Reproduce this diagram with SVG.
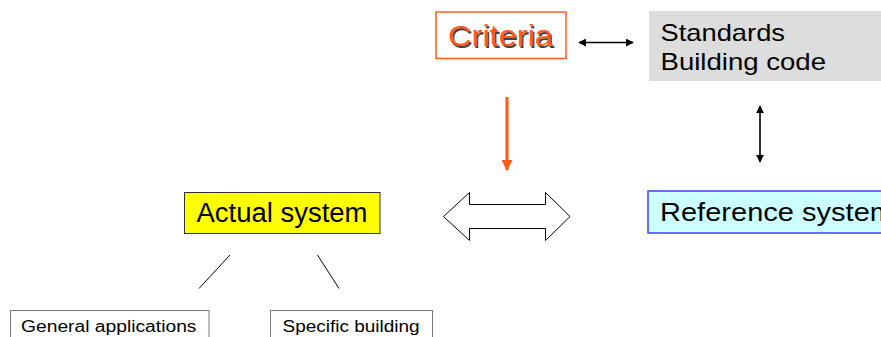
<svg xmlns="http://www.w3.org/2000/svg" width="881" height="337" viewBox="0 0 881 337">
<style>
text{font-family:"Liberation Sans",Arial,sans-serif;fill:#000}
.big{font-size:24px}
.small{font-size:16px}
.thin{stroke:#000;stroke-width:1;fill:none}
.blk{stroke:#000;stroke-width:1.6;fill:none}
</style>
<defs>
<marker id="ah" viewBox="0 0 10 10" refX="9" refY="5" markerWidth="8" markerHeight="8" markerUnits="userSpaceOnUse" orient="auto-start-reverse">
<path d="M0,0 L10,5 L0,10 z" fill="#000"/>
</marker>
<marker id="oh" viewBox="0 0 10 10" refX="9" refY="5" markerWidth="11" markerHeight="11" markerUnits="userSpaceOnUse" orient="auto">
<path d="M0,0 L10,5 L0,10 z" fill="#FF5A1A"/>
</marker>
</defs>
<rect width="881" height="337" fill="#fff"/>
<g id="criteria">
<rect x="436" y="12" width="130" height="46.5" fill="#fff" stroke="#FF5A1A" stroke-width="1.5"/>
<text x="449.5" y="47.5" font-size="30" textLength="105" lengthAdjust="spacingAndGlyphs" style="fill:#444">Criteria</text>
<text x="448" y="46" font-size="30" textLength="105" lengthAdjust="spacingAndGlyphs" style="fill:#FF5A1A">Criteria</text>
</g>
<g id="standards">
<rect x="649" y="11" width="232" height="70" fill="#DDDDDD"/>
<text class="big" x="660.5" y="40.5" textLength="124.5" lengthAdjust="spacingAndGlyphs">Standards</text>
<text class="big" x="660.5" y="70" textLength="165.5" lengthAdjust="spacingAndGlyphs">Building code</text>
</g>
<g id="actual">
<rect x="184.5" y="192.5" width="195.5" height="41" fill="#FFFF00" stroke="#333" stroke-width="1"/>
<text x="196.5" y="221.5" font-size="27" textLength="171" lengthAdjust="spacingAndGlyphs">Actual system</text>
</g>
<g id="reference">
<rect x="648" y="191" width="260" height="42" fill="#CCFFFF" stroke="#3F3FFF" stroke-width="1.5"/>
<text x="660" y="220.5" font-size="25" textLength="234" lengthAdjust="spacingAndGlyphs">Reference system</text>
</g>
<g id="general">
<rect x="10.5" y="310.5" width="198.5" height="40" fill="#fff" stroke="#777" stroke-width="1"/>
<text class="small" x="21" y="331.5" textLength="175.5" lengthAdjust="spacingAndGlyphs">General applications</text>
</g>
<g id="specific">
<rect x="270.5" y="310.5" width="162" height="40" fill="#fff" stroke="#777" stroke-width="1"/>
<text class="small" x="282.5" y="331.5" textLength="137" lengthAdjust="spacingAndGlyphs">Specific building</text>
</g>
<g id="connectors">
<line class="blk" x1="579" y1="42.5" x2="633" y2="42.5" marker-start="url(#ah)" marker-end="url(#ah)"/>
<line class="blk" x1="760" y1="106" x2="760" y2="162" marker-start="url(#ah)" marker-end="url(#ah)"/>
<line x1="507" y1="97" x2="507" y2="170" stroke="#FF5A1A" stroke-width="3" marker-end="url(#oh)"/>
<polygon points="443.5,216.5 469.5,192.5 469.5,204.5 545.5,204.5 545.5,192.5 570,216.5 545.5,240.5 545.5,228.5 469.5,228.5 469.5,240.5" fill="#fff" stroke="#000" stroke-width="1"/>
<line class="thin" x1="230" y1="255" x2="199" y2="288.5"/>
<line class="thin" x1="317.5" y1="255" x2="339" y2="288.5"/>
</g>
</svg>
